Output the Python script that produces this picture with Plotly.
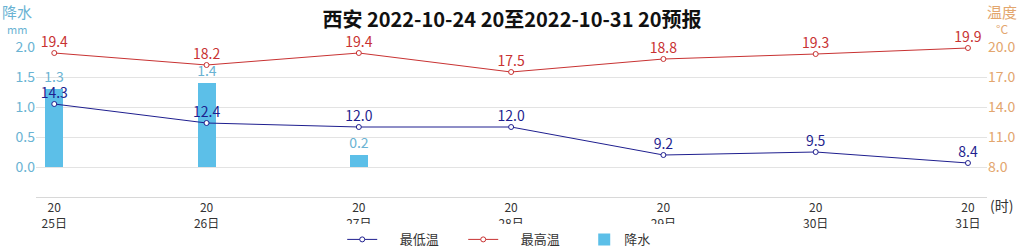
import plotly.graph_objects as go

days = ["25日", "26日", "27日", "28日", "29日", "30日", "31日"]
hours = ["20", "20", "20", "20", "20", "20", "20"]
min_temp = [14.3, 12.4, 12.0, 12.0, 9.2, 9.5, 8.4]
max_temp = [19.4, 18.2, 19.4, 17.5, 18.8, 19.3, 19.9]
precip = [1.3, 1.4, 0.2, 0.0, 0.0, 0.0, 0.0]
left_ticks = [0.0, 0.5, 1.0, 1.5, 2.0]
right_ticks = [8.0, 11.0, 14.0, 17.0, 20.0]

FONT = "Noto Sans CJK SC"
xs = list(range(len(days)))
ticktext = [f"{h}<br>{d}" for h, d in zip(hours, days)]
PAD = "\u00a0" * 6

NAVY = "#1f1f8f"
RED = "#c83232"
BLUE = "#5cbfe8"
BLUE_T = "#6ab3d3"
ORANGE_T = "#e3a66e"

fig = go.Figure()
for name, vals, col in [("最低温", min_temp, NAVY), ("最高温", max_temp, RED)]:
    fig.add_trace(go.Scatter(
        x=xs, y=vals, yaxis="y2", name=PAD + name,
        mode="lines+markers",
        line=dict(color=col, width=1),
        marker=dict(symbol="circle", size=5, color="white", line=dict(color=col, width=1)),
        cliponaxis=False,
    ))
fig.add_trace(go.Bar(
    x=xs, y=precip, yaxis="y", name="降水",
    marker=dict(color=BLUE, line=dict(width=0)), width=0.118,
    text=[f"{v:.1f}" if v > 0 else "" for v in precip], textposition="outside",
    constraintext="none", cliponaxis=False,
    textfont=dict(color=BLUE_T, size=14, family=FONT),
))
# value labels: a blank second line lifts each label just above its point
for vals, col in [(min_temp, NAVY), (max_temp, RED)]:
    fig.add_trace(go.Scatter(
        x=xs, y=vals, yaxis="y2", mode="text", showlegend=False, hoverinfo="skip",
        text=[f"{v:.1f}<br>\u00a0" for v in vals], textposition="middle center",
        textfont=dict(color=col, size=14, family=FONT), cliponaxis=False,
    ))

fig.update_layout(
    width=1024, height=249,
    margin=dict(l=36, r=37, t=47, b=52, autoexpand=False),
    paper_bgcolor="white", plot_bgcolor="white",
    font=dict(family=FONT, size=13, color="#333"),
    title=dict(text="<b>西安 2022-10-24 20至2022-10-31 20预报</b>", x=0.5, xanchor="center",
               y=0.918, yanchor="middle", font=dict(size=20, color="#111", family=FONT)),
    showlegend=True,
    legend=dict(orientation="h", x=0.322, xanchor="left", y=-0.283, yanchor="middle",
                font=dict(size=13, color="#333", family=FONT), entrywidth=76),
    bargap=0,
    xaxis=dict(range=[-0.12, 6.125], tickvals=xs, ticktext=ticktext, showgrid=False,
               showline=True, linecolor="#d8d8d8", linewidth=1, ticks="", zeroline=False,
               tickfont=dict(size=12, color="#333", family=FONT)),
    yaxis=dict(range=[-0.5, 2.0], tickvals=left_ticks, ticktext=[f"{v:.1f}" for v in left_ticks],
               showgrid=True, gridcolor="#e3e3e3", zeroline=False, showline=False,
               tickfont=dict(size=14, color=BLUE_T, family=FONT), fixedrange=True),
    yaxis2=dict(range=[5.0, 20.0], tickvals=right_ticks, ticktext=[f"{v:.1f}" for v in right_ticks],
                overlaying="y", side="right", showgrid=False, zeroline=False, showline=False,
                tickfont=dict(size=14, color=ORANGE_T, family=FONT)),
)

fig.add_annotation(text="降水", xref="paper", yref="paper", x=-0.02, y=1.24, xanchor="center",
                   yanchor="middle", showarrow=False, font=dict(size=15, color=BLUE_T, family=FONT))
fig.add_annotation(text="mm", xref="paper", yref="paper", x=-0.02, y=1.12, xanchor="center",
                   yanchor="middle", showarrow=False, font=dict(size=11, color=BLUE_T, family=FONT))
fig.add_annotation(text="温度", xref="paper", yref="paper", x=1.016, y=1.24, xanchor="center",
                   yanchor="middle", showarrow=False, font=dict(size=15, color=ORANGE_T, family=FONT))
fig.add_annotation(text="°C", xref="paper", yref="paper", x=1.016, y=1.12, xanchor="center",
                   yanchor="middle", showarrow=False, font=dict(size=12, color=ORANGE_T, family=FONT))
fig.add_annotation(text="(时)", xref="paper", yref="paper", x=1.001, y=-0.055, xanchor="left",
                   yanchor="middle", showarrow=False, font=dict(size=14, color="#333", family=FONT))

fig.write_html("out.html")
